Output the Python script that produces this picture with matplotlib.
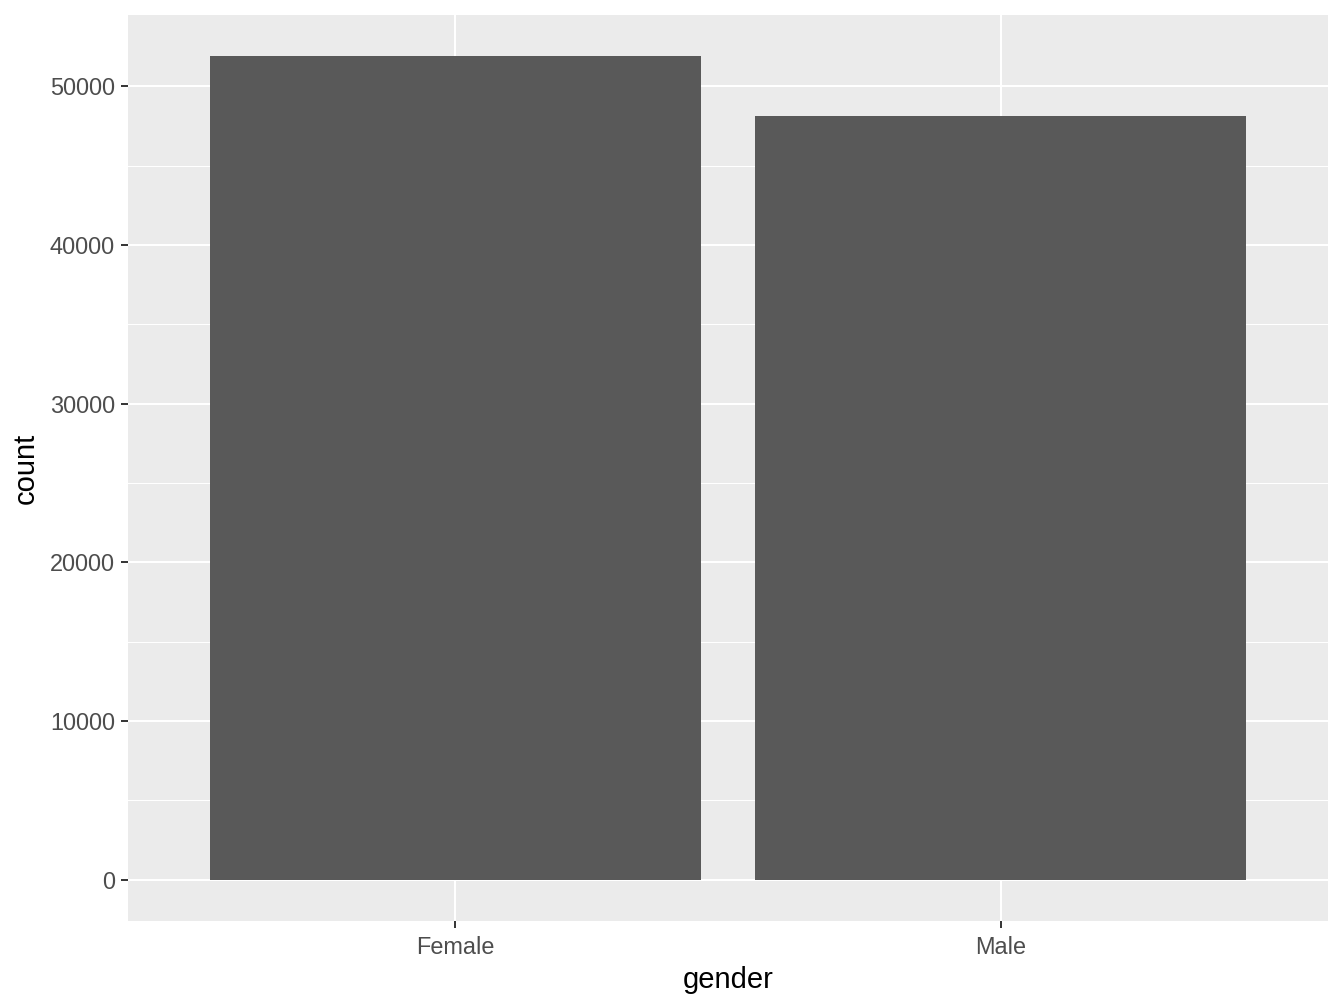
import matplotlib
matplotlib.use("Agg")
import matplotlib.pyplot as plt

# gender counts
genders = ["Female", "Male"]
counts = [51900, 48120]
y_ticks = [0, 10000, 20000, 30000, 40000, 50000]
y_minor = [5000, 15000, 25000, 35000, 45000]

plt.rcParams['font.family'] = ['Liberation Sans', 'DejaVu Sans']

fig = plt.figure(figsize=(13.44, 10.08), dpi=100)
ax = fig.add_axes([128 / 1344, 87 / 1008, 1200 / 1344, 906 / 1008])
ax.set_facecolor("#EBEBEB")

xs = list(range(1, len(genders) + 1))
ax.bar(xs, counts, width=0.9, color="#595959", zorder=3)

# ggplot-like expansion
top = max(counts) * 1.05
ax.set_ylim(-max(counts) * 0.05, top)
ax.set_xlim(0.4, len(genders) + 0.6)

ax.set_xticks(xs)
ax.set_xticklabels(genders)
ax.set_yticks(y_ticks)
ax.set_yticks(y_minor, minor=True)

ax.grid(which="major", color="white", linewidth=1.5, zorder=1)
ax.grid(which="minor", axis="y", color="white", linewidth=0.75, zorder=1)
ax.set_axisbelow(True)

for s in ax.spines.values():
    s.set_visible(False)

ax.tick_params(which="major", length=5.3, width=1.4, color="#333333",
               labelsize=16.9, labelcolor="#4D4D4D", pad=4.2)
ax.tick_params(axis="x", which="major", pad=5.5)
ax.tick_params(which="minor", length=0)

ax.set_xlabel("gender", fontsize=21, color="black", labelpad=5)
ax.set_ylabel("count", fontsize=21, color="black", labelpad=7)

fig.savefig("out.png", dpi=100)
